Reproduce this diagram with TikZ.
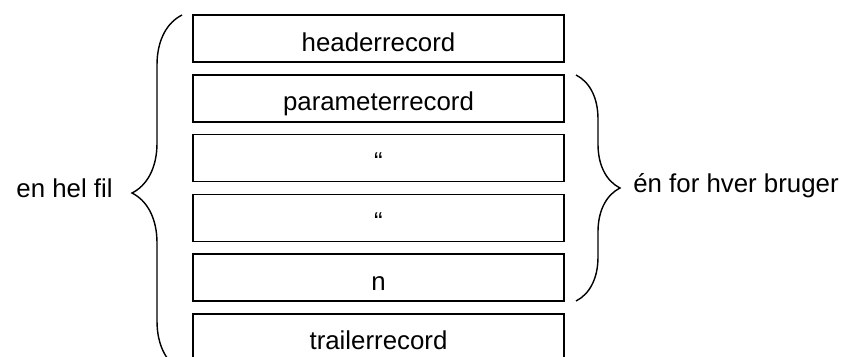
\documentclass[tikz,border=0pt]{standalone}
\usepackage{fontspec}
\setmainfont{Liberation Sans}
\usetikzlibrary{positioning}
\usetikzlibrary{decorations.pathreplacing}

\begin{document}
\begin{tikzpicture}[x=0.02cm,y=-0.02cm,
    record/.style={draw,line width=0.9pt,minimum width=7.42cm,minimum height=0.94cm,
        inner sep=0pt,text height=0.5cm,text depth=0pt,font=\fontsize{14.7}{17}\selectfont},
    side/.style={inner sep=0pt,font=\fontsize{14.7}{17}\selectfont},
    curly/.style={decorate,decoration={brace,amplitude=#1},line width=0.8pt},
    node distance=0.224cm]
    \useasboundingbox (0,0) rectangle (849,356);
    \clip (0,0) rectangle (849,356);
    \node[record] (header) at (378.5,38.5) {headerrecord};
    \node[record,below=of header] (param) {parameterrecord};
    \node[record,below=of param] (ditto1) {“};
    \node[record,below=of ditto1] (ditto2) {“};
    \node[record,below=of ditto2] (last) {n};
    \node[record,below=of last] (trailer) {trailerrecord};
    \coordinate (filtop) at (182,15);
    \coordinate (filbot) at (182,371);
    \coordinate (usertop) at (576,75);
    \coordinate (userbot) at (576,301);
    \draw[curly=1cm] (filbot) -- (filtop);
    \draw[curly=0.88cm] (usertop) -- (userbot);
    \node[side,anchor=base east] (whole) at (113,197) {en hel fil};
    \node[side,anchor=base west] (peruser) at (633,192) {én for hver bruger};
\end{tikzpicture}
\end{document}
